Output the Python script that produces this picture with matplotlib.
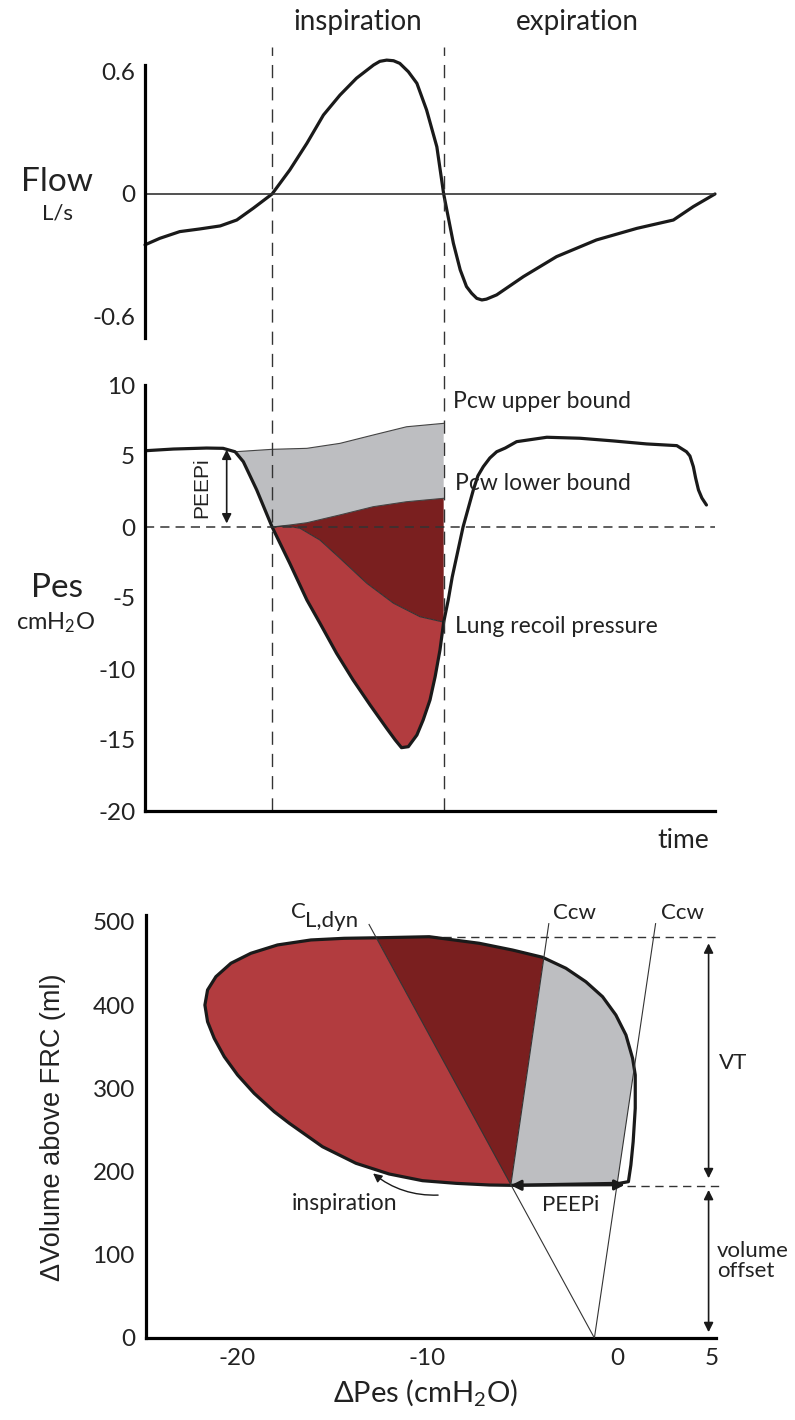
import matplotlib
matplotlib.use("Agg")
import matplotlib.pyplot as plt
from matplotlib.patches import Polygon, FancyArrowPatch

plt.rcParams['font.family'] = ['Lato', 'DejaVu Sans']
plt.rcParams['mathtext.fontset'] = 'custom'
plt.rcParams['mathtext.rm'] = 'Lato'
plt.rcParams['mathtext.it'] = 'Lato:italic'

LIGHT_RED = '#B23C3F'
DARK_RED = '#7A1F1F'
GREY = '#BDBEC1'
INK = '#222222'

# ---- data ----
# time axis is arbitrary units 0..100
t_insp, t_exp = 22.3, 52.4

flow_t = [0, 2.6, 6.1, 9.6, 13.2, 16.1, 19.0, 22.3, 25.4, 28.4, 31.3, 34.2, 37.1,
          40.1, 41.2, 42.4, 43.6, 44.7, 46.2, 47.7, 49.4, 51.2, 52.4, 54.1, 55.3,
          56.4, 57.3, 58.2, 59.1, 59.9, 61.7, 66.4, 72.2, 79.2, 86.3, 92.7, 96.2, 100]
flow = [-0.25, -0.218, -0.185, -0.172, -0.157, -0.128, -0.070, 0.0, 0.118, 0.249,
        0.388, 0.486, 0.569, 0.634, 0.652, 0.658, 0.655, 0.642, 0.601, 0.544, 0.413,
        0.232, 0.0, -0.242, -0.373, -0.455, -0.488, -0.513, -0.521, -0.517, -0.496,
        -0.406, -0.308, -0.226, -0.169, -0.128, -0.062, 0.0]

pes_t = [0, 4.96, 10.8, 13.7, 15.8, 17.25, 19.6, 22.3, 25.4, 28.4, 30.7, 33.6, 36.5,
         39.5, 42.4, 43.9, 45.0, 46.2, 47.7, 48.8, 50.0, 50.9, 51.75, 52.4, 53.2,
         53.9, 55.8, 57.6, 58.4, 59.35, 60.5, 61.7, 63.2, 65.2, 70.5, 76.3, 82.2, 88.0,
         93.3, 95.0, 95.6, 96.2, 96.6, 97.1, 97.7, 98.5]
pes = [5.37, 5.49, 5.56, 5.54, 5.30, 4.60, 2.61, 0.0, -2.56, -5.14, -6.78, -8.89,
       -10.77, -12.54, -14.18, -15.0, -15.54, -15.47, -14.65, -13.59, -12.18, -10.54,
       -8.66, -6.70, -5.14, -3.52, 0.0, 2.61, 3.60, 4.25, 4.86, 5.30, 5.56, 6.01, 6.32,
       6.25, 6.06, 5.85, 5.73, 5.30, 5.0, 4.25, 3.45, 2.61, 2.04, 1.55]

pcw_up_t = [15.8, 22.3, 28.4, 34.2, 40.05, 45.9, 52.4]
pcw_up = [5.30, 5.47, 5.54, 5.89, 6.48, 7.06, 7.30]
pcw_lo_t = [22.3, 25.4, 28.4, 34.2, 40.05, 45.9, 52.4]
pcw_lo = [0.0, 0.14, 0.30, 0.85, 1.43, 1.78, 2.02]
recoil_t = [22.3, 24.9, 27.2, 30.7, 34.2, 38.9, 43.6, 48.25, 52.4]
recoil = [0.0, 0.07, -0.09, -0.92, -2.20, -3.96, -5.37, -6.32, -6.70]

# pressure-volume loop (dPes cmH2O, volume ml), starts at end-expiration
loop_p = [-5.60, -6.74, -8.49, -10.25, -12.0, -13.75, -15.51, -17.26, -18.05, -19.11,
          -19.98, -20.68, -21.21, -21.56, -21.70, -21.56, -21.12, -20.33, -19.28,
          -17.88, -16.12, -14.37, -12.44, -9.89, -7.26, -5.51, -3.93, -2.70, -1.65,
          -0.77, -0.07, 0.46, 0.81, 0.95, 0.95, 0.84, 0.72, 0.59, 0.11]
loop_v = [183.5, 183.9, 185.9, 189.1, 197.1, 210.0, 229.9, 258.1, 272.0, 294.1,
          316.1, 338.1, 360.2, 380.2, 400.2, 418.3, 434.3, 450.4, 462.4, 472.4,
          478.4, 480.4, 481.1, 482.3, 474.4, 466.3, 457.6, 444.4, 428.2, 410.2,
          388.2, 364.2, 336.2, 316.1, 276.1, 235.9, 207.9, 187.9, 185.9]
v_end_exp, v_end_insp = 183.0, 482.3
origin = (-1.2, 0)
cl_top = (-13.06, 497)
ccw1_top = (-3.6, 498)
ccw2_top = (2.02, 498)
peepi_right = 0.4

W, H = 795, 1420
fig = plt.figure(figsize=(W / 100, H / 100), dpi=100)


def fx(px):
    return px / W


def fy(py):
    return 1 - py / H


dash = (0, (9.5, 6.5))

# ---------------- flow ----------------
ax1 = fig.add_axes([fx(145), fy(338), 570 / W, 273 / H])
ax1.set_facecolor('none')
ax1.plot(flow_t, flow, color='#1a1a1a', lw=2.3, solid_capstyle='round',
         solid_joinstyle='round', clip_on=False)
ax1.axhline(0, color='#333333', lw=1.2)
ax1.set_xlim(0, 100)
ax1.set_ylim(-0.708, 0.634)
for s in ['top', 'right', 'bottom']:
    ax1.spines[s].set_visible(False)
ax1.spines['left'].set_linewidth(2.3)
ax1.set_xticks([])
ax1.set_yticks([0.6, 0, -0.6])
ax1.set_yticklabels(['0.6', '0', '-0.6'])
ax1.tick_params(axis='y', length=0, pad=7, labelsize=17.5, colors=INK)

fig.text(fx(57), fy(182), 'Flow', fontsize=24, ha='center', va='center', color=INK)
fig.text(fx(57), fy(214), 'L/s', fontsize=16, ha='center', va='center', color=INK)
fig.text(fx(358), fy(22), 'inspiration', fontsize=20, ha='center', va='center', color=INK)
fig.text(fx(577), fy(22), 'expiration', fontsize=20, ha='center', va='center', color=INK)

# ---------------- Pes ----------------
ax2 = fig.add_axes([fx(145), fy(811), 570 / W, 426 / H])
ax2.set_facecolor('none')
ax2.set_xlim(0, 100)
ax2.set_ylim(-20, 10)

pes_down_t = [x for x in pes_t if 15.8 <= x <= t_insp]
pes_down = [p for x, p in zip(pes_t, pes) if 15.8 <= x <= t_insp]
pes_insp_t = [x for x in pes_t if t_insp <= x <= t_exp]
pes_insp = [p for x, p in zip(pes_t, pes) if t_insp <= x <= t_exp]

ax2.fill(pcw_up_t + pcw_lo_t[::-1] + pes_down_t[::-1],
         pcw_up + pcw_lo[::-1] + pes_down[::-1], color=GREY, lw=0)
ax2.fill(pcw_lo_t + recoil_t[::-1], pcw_lo + recoil[::-1], color=DARK_RED, lw=0)
ax2.fill(recoil_t + pes_insp_t[::-1], recoil + pes_insp[::-1], color=LIGHT_RED, lw=0)
ax2.plot(pcw_up_t, pcw_up, color='#444444', lw=0.8)
ax2.plot(pcw_lo_t, pcw_lo, color='#444444', lw=0.8)
ax2.plot(recoil_t, recoil, color='#333333', lw=0.8)
ax2.plot(pes_t, pes, color='#1a1a1a', lw=2.3, solid_capstyle='round',
         solid_joinstyle='round')
ax2.axhline(0, color='#333333', lw=1.1, ls=(0, (6, 4)))

for tt in (t_insp, t_exp):
    ax2.plot([tt, tt], [-20, 33.8], color='#333333', lw=1.0, ls=dash, clip_on=False)

for s in ['top', 'right']:
    ax2.spines[s].set_visible(False)
ax2.spines['left'].set_linewidth(2.3)
ax2.spines['bottom'].set_linewidth(2.3)
ax2.set_xticks([])
ax2.set_yticks([10, 5, 0, -5, -10, -15, -20])
ax2.set_yticklabels(['10', '5', '0', '-5', '-10', '-15', '-20'])
ax2.tick_params(axis='y', length=0, pad=7, labelsize=17.5, colors=INK)

ax2.annotate('', xy=(14.33, 0.25), xytext=(14.33, 5.45),
             arrowprops=dict(arrowstyle='<|-|>', color='#1a1a1a', lw=1.2,
                             mutation_scale=14, shrinkA=0, shrinkB=0))
ax2.text(10.0, 2.8, 'PEEPi', rotation=90, fontsize=15, ha='center', va='center',
         family='Liberation Sans', color=INK)
ax2.text(54.0, 8.82, 'Pcw upper bound', fontsize=16.5, ha='left', va='center', color=INK)
ax2.text(54.4, 3.03, 'Pcw lower bound', fontsize=16.5, ha='left', va='center', color=INK)
ax2.text(54.4, -7.02, 'Lung recoil pressure', fontsize=16.5, ha='left', va='center', color=INK)

fig.text(fx(57), fy(588), 'Pes', fontsize=24, ha='center', va='center', color=INK)
fig.text(fx(56), fy(623), r'cmH$_\mathrm{2}$O', fontsize=17, ha='center', va='center', color=INK)
fig.text(fx(683), fy(840), 'time', fontsize=19, ha='center', va='center', color=INK)

# ---------------- PV loop ----------------
ax3 = fig.add_axes([fx(146), fy(1338), 570 / W, 423 / H])
ax3.set_xlim(-24.8, 5.2)
ax3.set_ylim(0, 508.4)

loop_patch = Polygon(list(zip(loop_p, loop_v)), closed=True, fc='none',
                     ec='#1a1a1a', lw=2.3, zorder=5, joinstyle='round')
ax3.add_patch(loop_patch)

B = (loop_p[0], loop_v[0])
regions = [
    ([(-30, 0), origin, cl_top, (-30, cl_top[1])], LIGHT_RED),
    ([B, cl_top, ccw1_top], DARK_RED),
    ([B, ccw1_top, ccw2_top, origin], GREY),
]
for verts, col in regions:
    poly = Polygon(verts, closed=True, fc=col, ec='none', zorder=2)
    ax3.add_patch(poly)
    poly.set_clip_path(loop_patch)

ax3.plot([cl_top[0], origin[0]], [cl_top[1], origin[1]], color='#333333', lw=0.8, zorder=6)
ax3.plot([B[0], ccw1_top[0]], [B[1], ccw1_top[1]], color='#333333', lw=0.8, zorder=6)
ax3.plot([origin[0], ccw2_top[0]], [origin[1], ccw2_top[1]], color='#333333', lw=0.8, zorder=6)

ax3.plot([-9.9, 5.4], [v_end_insp, v_end_insp], color='#333333', lw=1.0,
         ls=(0, (6, 4)), clip_on=False)
ax3.plot([0.5, 5.4], [v_end_exp, v_end_exp], color='#333333', lw=1.0,
         ls=(0, (6, 4)), clip_on=False)

ax3.annotate('', xy=(peepi_right, v_end_exp + 1), xytext=(B[0], B[1]),
             arrowprops=dict(arrowstyle='<|-|>', color='#1a1a1a', lw=2.0,
                             mutation_scale=15, shrinkA=0, shrinkB=0), zorder=7)
ax3.annotate('', xy=(4.81, v_end_insp - 8), xytext=(4.81, v_end_exp + 9),
             arrowprops=dict(arrowstyle='<|-|>', color='#1a1a1a', lw=1.2,
                             mutation_scale=14, shrinkA=0, shrinkB=0),
             annotation_clip=False)
ax3.annotate('', xy=(4.81, v_end_exp - 5), xytext=(4.81, 7),
             arrowprops=dict(arrowstyle='<|-|>', color='#1a1a1a', lw=1.2,
                             mutation_scale=14, shrinkA=0, shrinkB=0),
             annotation_clip=False)
arc = FancyArrowPatch((-9.28, 171.9), (-12.96, 199.9), arrowstyle='-|>',
                      connectionstyle='arc3,rad=-0.2', mutation_scale=13,
                      color='#1a1a1a', lw=1.0)
ax3.add_patch(arc)

ax3.text(-17.16, 504.4, 'C', fontsize=16, ha='left', va='baseline', color=INK, clip_on=False)
ax3.text(-16.42, 494.4, 'L,dyn', fontsize=16, ha='left', va='baseline', color=INK, clip_on=False)
ax3.text(-3.37, 510.5, 'Ccw', fontsize=16, ha='left', va='center', color=INK, clip_on=False)
ax3.text(2.3, 510.5, 'Ccw', fontsize=16, ha='left', va='center', color=INK, clip_on=False)
ax3.text(5.37, 330, 'VT', fontsize=16, ha='left', va='center', color=INK, clip_on=False)
ax3.text(5.26, 92, 'volume\noffset', fontsize=16, ha='left', va='center',
         color=INK, linespacing=1.0, clip_on=False)
ax3.text(-2.47, 160, 'PEEPi', fontsize=16, ha='center', va='center', color=INK)
ax3.text(-14.37, 162, 'inspiration', fontsize=16.5, ha='center', va='center', color=INK)

for s in ['top', 'right']:
    ax3.spines[s].set_visible(False)
ax3.spines['left'].set_linewidth(2.3)
ax3.spines['bottom'].set_linewidth(2.3)
ax3.set_xticks([-20, -10, 0, 5])
ax3.set_xticklabels(['-20', '-10', '0', '5'])
ax3.set_yticks([0, 100, 200, 300, 400, 500])
ax3.tick_params(length=0, labelsize=17.5, colors=INK)
ax3.tick_params(axis='y', pad=8)
ax3.tick_params(axis='x', pad=7)

fig.text(fx(426), fy(1393), r'$\Delta$Pes (cmH$_\mathrm{2}$O)', fontsize=21,
         ha='center', va='center', color=INK)
fig.text(fx(53), fy(1127), 'ΔVolume above FRC (ml)', fontsize=19.5, rotation=90,
         ha='center', va='center', family='Liberation Sans', color=INK)

fig.savefig('out.png', dpi=100)
